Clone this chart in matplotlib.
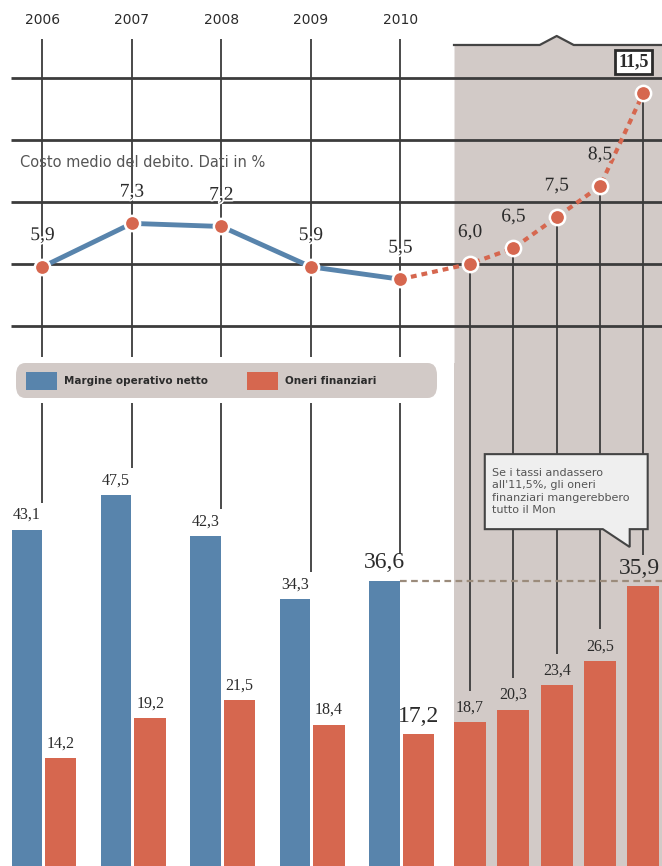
import numpy as np
import matplotlib.pyplot as plt
import matplotlib.patheffects as pe
from matplotlib.patches import Patch, Polygon, FancyBboxPatch

# dati
years = ["2006", "2007", "2008", "2009", "2010"]
costo_storico = [5.9, 7.3, 7.2, 5.9, 5.5]
costo_ipotesi = [6.0, 6.5, 7.5, 8.5, 11.5]
margine = [43.1, 47.5, 42.3, 34.3, 36.6]
oneri = [14.2, 19.2, 21.5, 18.4, 17.2]
oneri_ipotesi = [18.7, 20.3, 23.4, 26.5, 35.9]
legend_labels = ["Margine operativo netto", "Oneri finanziari"]
titolo = "Costo medio del debito. Dati in %"
nota = "Se i tassi andassero\nall'11,5%, gli oneri\nfinanziari mangerebbero\ntutto il Mon"

BLUE = "#5884ac"
RED = "#d6674f"
SHADE = "#d2cac7"
INK = "#2b2b2b"
GRID = "#3c3c3c"
SERIF = "Liberation Serif"


def it(v):
    return f"{v:.1f}".replace(".", ",")


W, H = 662, 866
fig = plt.figure(figsize=(W / 100, H / 100), dpi=100)

# one x unit per year column
xh = np.arange(len(years))
xp = 4.78 + 0.484 * np.arange(len(costo_ipotesi))
xmin, xmax = -0.475, 6.925
shade_x = 4.6

# ---- top panel: cost of debt
split = 363
ax1 = fig.add_axes([0, 1 - split / H, 1, split / H])
ax1.set_xlim(xmin, xmax)
ax1.set_ylim(2.8, 14.5)
ax1.axis("off")

border = 13.05
cx = xp[2]
ax1.fill_between([shade_x, cx - 0.19, cx, cx + 0.19, xmax],
                 2.8, [border, border, border + 0.29, border, border],
                 color=SHADE, lw=0, zorder=0)
ax1.plot([shade_x, cx - 0.19, cx, cx + 0.19, xmax],
         [border, border, border + 0.29, border, border],
         color="#444444", lw=1.6, zorder=1)

ax1.hlines([4, 6, 8, 10, 12], -0.35, xmax, color=GRID, lw=2.0, zorder=1)
ax1.vlines(xh, 2.99, 13.25, color=GRID, lw=1.3, zorder=1)
ax1.vlines(xp, 2.8, costo_ipotesi, color=GRID, lw=1.3, zorder=1)

for x, y in zip(xh, years):
    ax1.text(x, 13.85, y, ha="center", va="center", fontsize=10, color=INK)
ax1.text(-0.25, 9.26, titolo, ha="left", va="center", fontsize=10.5, color="#555555",
         zorder=3)

ax1.plot(xh, costo_storico, color=BLUE, lw=3.5, zorder=4, solid_capstyle="round")
ax1.plot(np.r_[xh[-1], xp], np.r_[costo_storico[-1], costo_ipotesi], color=RED,
         lw=3, ls=(0, (1.4, 1.2)), zorder=4)
ax1.plot(np.r_[xh, xp], np.r_[costo_storico, costo_ipotesi], ls="none", marker="o",
         ms=11, mfc=RED, mec="white", mew=1.8, zorder=5)

for x, v in zip(xh, costo_storico):
    ax1.annotate(it(v), (x, v), xytext=(0, 22.5), textcoords="offset points",
                 ha="center", va="center", fontsize=14, family=SERIF, color=INK,
                 zorder=6, path_effects=[pe.withStroke(linewidth=2.5, foreground="white")])
for x, v in zip(xp[:-1], costo_ipotesi[:-1]):
    ax1.annotate(it(v), (x, v), xytext=(0, 22.5), textcoords="offset points",
                 ha="center", va="center", fontsize=14, family=SERIF, color=INK,
                 zorder=6, path_effects=[pe.withStroke(linewidth=2.5, foreground=SHADE)])
ax1.annotate(it(costo_ipotesi[-1]), (xp[-1], costo_ipotesi[-1]), xytext=(-7, 22.5),
             textcoords="offset points", ha="center", va="center", fontsize=13,
             family=SERIF, weight="bold", color=INK, zorder=6,
             bbox=dict(boxstyle="square,pad=0.2", fc="white", ec=INK, lw=2))

# ---- bottom panel: bars
ax2 = fig.add_axes([0, -4 / H, 1, 507 / H])
ax2.set_xlim(xmin, xmax)
ax2.set_ylim(0, 64.2)
ax2.axis("off")
ax2.axvspan(shade_x, xmax, color=SHADE, lw=0, zorder=0)

ax2.vlines(xh, np.array(margine) + 3.4, 59.1, color=GRID, lw=1.3, zorder=1)
ax2.vlines(xp, np.array(oneri_ipotesi) + 4, 64.2, color=GRID, lw=1.3, zorder=1)

ax2.bar(xh - 0.346, margine, width=0.34, align="edge", color=BLUE, zorder=2)
ax2.bar(xh + 0.028, oneri, width=0.352, align="edge", color=RED, zorder=2)
ax2.bar(xp, oneri_ipotesi, width=0.358, color=RED, zorder=2)

ax2.hlines(margine[-1], xh[-1], xmax, color="#9b8b7b", lw=1.6,
           linestyles=(0, (3, 2)), zorder=3)


def bar_label(x, v, big=False, dx=0):
    ax2.annotate(it(v), (x, v), xytext=(dx, 13 if big else 10.5),
                 textcoords="offset points", ha="center", va="center",
                 fontsize=17 if big else 11.5, family=SERIF, color=INK, zorder=6)


for i, v in enumerate(margine):
    bar_label(xh[i] - 0.176, v, big=(i == len(margine) - 1))
for i, v in enumerate(oneri):
    bar_label(xh[i] + 0.204, v, big=(i == len(oneri) - 1))
for i, v in enumerate(oneri_ipotesi[:-1]):
    bar_label(xp[i], v)
bar_label(xp[-1], oneri_ipotesi[-1], big=True, dx=-3)

# callout
bx0, bx1 = 4.944, 6.765
by0, by1 = 43.16, 52.66
tip_x = xp[-1] - 0.152
ax2.add_patch(Polygon([(bx0, by1), (bx1, by1), (bx1, by0), (tip_x, by0),
                       (tip_x, 40.9), (tip_x - 0.3, by0), (bx0, by0)],
                      closed=True, fc="#efefef", ec="#444444", lw=1.5, zorder=7))
ax2.text(bx0 + 0.08, (by0 + by1) / 2, nota, ha="left", va="center", fontsize=8,
         color="#555555", linespacing=1.3, zorder=8)

# legend
fig.patches.append(FancyBboxPatch((16 / W, 1 - 398 / H), 421 / W, 35 / H,
                                  boxstyle="round,pad=0,rounding_size=0.014",
                                  transform=fig.transFigure, fc=SHADE, ec="none",
                                  zorder=3))
fig.legend(handles=[Patch(fc=BLUE), Patch(fc=RED)], labels=legend_labels,
           loc="center left", bbox_to_anchor=(26 / W, 1 - 381 / H), ncol=2,
           frameon=False, borderpad=0, borderaxespad=0, handlelength=3.0,
           handleheight=2.2, handletextpad=0.6, columnspacing=3.8,
           prop=dict(size=7.5, weight="bold"), labelcolor=INK)

fig.savefig("out.png", dpi=100)
